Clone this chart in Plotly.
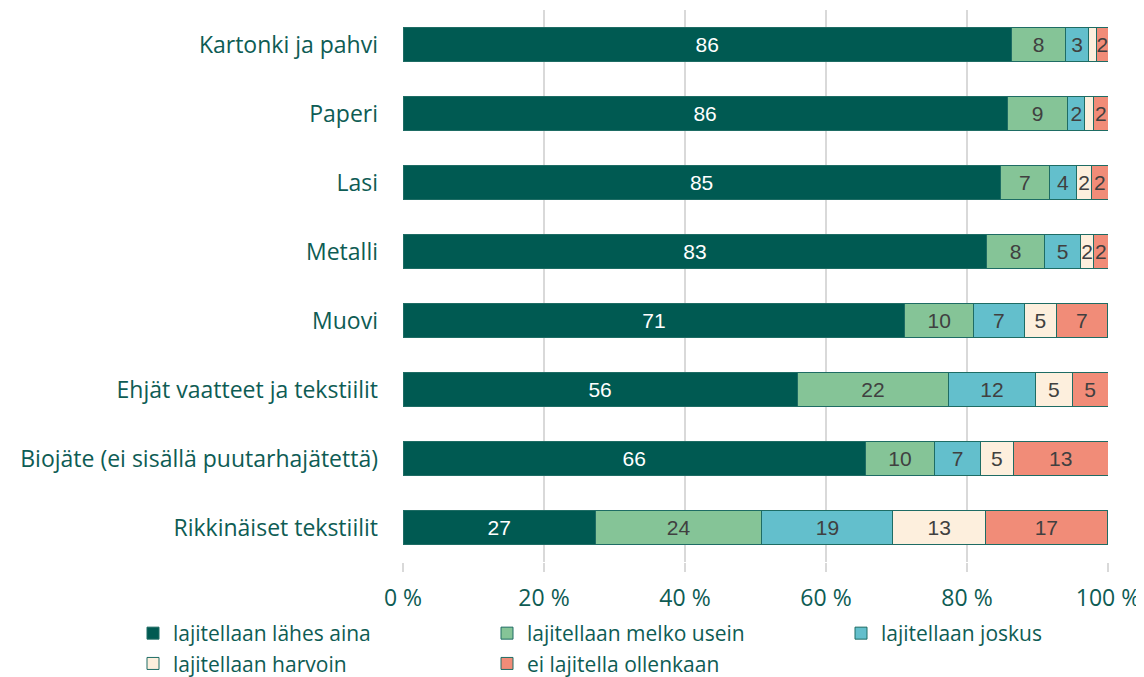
import plotly.graph_objects as go

categories = [
    "Kartonki ja pahvi",
    "Paperi",
    "Lasi",
    "Metalli",
    "Muovi",
    "Ehjät vaatteet ja tekstiilit",
    "Biojäte (ei sisällä puutarhajätettä)",
    "Rikkinäiset tekstiilit",
]

series_names = [
    "lajitellaan lähes aina",
    "lajitellaan melko usein",
    "lajitellaan joskus",
    "lajitellaan harvoin",
    "ei lajitella ollenkaan",
]

lahes_aina = [86.3, 85.7, 84.7, 82.8, 71.2, 55.9, 65.6, 27.3]
melko_usein = [7.7, 8.6, 7.0, 8.2, 9.7, 21.5, 9.8, 23.6]
joskus = [3.2, 2.4, 3.8, 5.1, 7.2, 12.3, 6.5, 18.6]
harvoin = [1.2, 1.3, 2.2, 1.9, 4.6, 5.2, 4.7, 13.1]
ei_ollenkaan = [1.6, 2.0, 2.3, 2.0, 7.2, 5.1, 13.4, 17.3]

# which labels are printed (harvoin ~1 % are hidden in the original)
show_harvoin = [False, False, True, True, True, True, True, True]

series_values = [lahes_aina, melko_usein, joskus, harvoin, ei_ollenkaan]
colors = ["#005A52", "#85C497", "#63BFCC", "#FDEFDD", "#F18C78"]
text_colors = ["#FFFFFF", "#404040", "#404040", "#404040", "#404040"]

TEAL = "#0E5C54"
FONT = "Open Sans"
FS = 23

# the page body has an 8 px margin, so the figure is 8 px smaller
W, H = 1136, 669
ML, MR, MT, MB = 395, 36, 2, 115
PLOT_W = W - ML - MR
PLOT_H = H - MT - MB

fig = go.Figure()
for i, (name, vals) in enumerate(zip(series_names, series_values)):
    if i == 3:
        tt = ["%{x:.0f}" if s else "" for s in show_harvoin]
    else:
        tt = "%{x:.0f}"
    fig.add_trace(go.Bar(
        y=categories,
        x=vals,
        name=name,
        orientation="h",
        marker=dict(color=colors[i], line=dict(color="#1E6C64", width=1)),
        texttemplate=tt,
        textposition="inside",
        insidetextanchor="middle",
        textangle=0,
        insidetextfont=dict(family="Liberation Sans, Arial", size=21, color=text_colors[i]),
        hoverinfo="skip",
    ))

fig.update_layout(
    barmode="stack",
    bargap=0.5,
    width=W,
    height=H,
    margin=dict(l=ML, r=MR, t=MT, b=MB, autoexpand=False),
    plot_bgcolor="white",
    paper_bgcolor="white",
    font=dict(family=FONT, size=FS, color=TEAL),
    uniformtext=dict(minsize=20, mode="show"),
    showlegend=True,
    legend=dict(
        orientation="h",
        x=(125 - ML) / PLOT_W,
        xanchor="left",
        y=-51 / PLOT_H,
        yanchor="top",
        entrywidth=309,
        entrywidthmode="pixels",
        font=dict(family=FONT, size=21, color=TEAL),
        traceorder="normal",
        tracegroupgap=0,
        borderwidth=0,
    ),
)

fig.update_xaxes(
    range=[0, 100],
    tickvals=[0, 20, 40, 60, 80, 100],
    ticktext=["0 %", "20 %", "40 %", "60 %", "80 %", "100 %"],
    showgrid=True,
    gridcolor="#D9D9D9",
    gridwidth=2,
    zeroline=False,
    ticks="outside",
    ticklen=9,
    tickcolor="#D9D9D9",
    tickwidth=2,
    ticklabelstandoff=6,
    tickfont=dict(family=FONT, size=FS, color=TEAL),
    showline=False,
    automargin=False,
    fixedrange=True,
)

fig.update_yaxes(
    categoryorder="array",
    categoryarray=categories,
    autorange="reversed",
    tickfont=dict(family=FONT, size=FS, color=TEAL),
    ticks="",
    ticklabelstandoff=24,
    automargin=False,
    showgrid=False,
)

fig.write_html("out.html")
